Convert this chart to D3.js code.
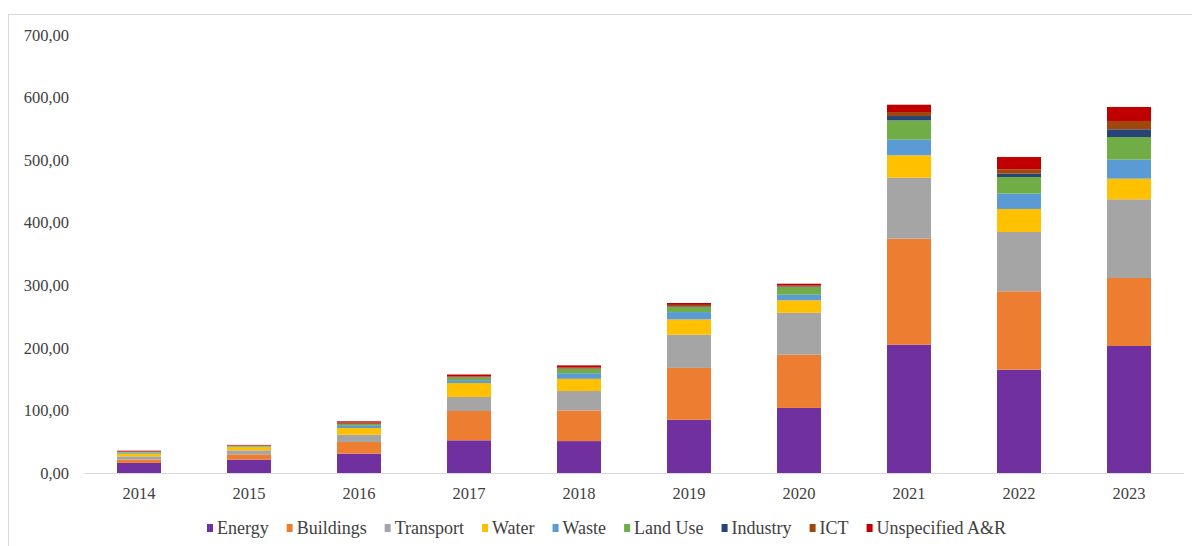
<!DOCTYPE html>
<html>
<head>
<meta charset="utf-8">
<script src="https://cdn.jsdelivr.net/npm/d3@7/dist/d3.min.js"></script>
<style>
  html, body { margin: 0; padding: 0; background: #fff; }
  svg text { font-family: "Liberation Serif", "Times New Roman", serif; fill: #404040; }
</style>
</head>
<body>
<svg id="chart" width="1192" height="546"></svg>
<script>
// Years on the x axis
const years = ["2014", "2015", "2016", "2017", "2018", "2019", "2020", "2021", "2022", "2023"];

// Sector series, in stacking order (bottom to top)
const sectors = ["Energy", "Buildings", "Transport", "Water", "Waste", "Land Use", "Industry", "ICT", "Unspecified A&R"];
const colors  = ["#7030A0", "#ED7D31", "#A5A5A5", "#FFC000", "#5B9BD5", "#70AD47", "#264478", "#9E480E", "#C00000"];

// Values per sector, one per year
const energy      = [16.0, 21.3, 30.9, 52.2, 51.0, 85.0, 104.0, 205.1, 165.2, 203.0];
const buildings   = [ 5.3,  8.5, 18.6, 46.9, 49.0, 83.0,  85.0, 169.4, 125.2, 108.7];
const transport   = [ 5.3,  6.4, 11.7, 22.4, 31.0, 53.0,  67.0,  97.5,  94.8, 125.7];
const water       = [ 4.3,  5.3, 10.7, 22.4, 19.5, 24.5,  20.0,  35.7,  36.8,  33.0];
const waste       = [ 1.5,  1.0,  3.5,  4.5,  9.0, 11.7,   9.0,  25.0,  24.5,  30.4];
const landUse     = [ 1.2,  0.8,  2.4,  4.0,  7.0,  8.0,  12.0,  30.9,  26.6,  36.2];
const industry    = [ 0.3,  0.3,  0.8,  0.5,  0.5,  1.0,   1.0,   6.9,   5.3,  12.3];
const ict         = [ 0.6,  0.5,  2.0,  1.5,  1.5,  2.5,   1.5,   6.4,   6.9,  13.3];
const unspecified = [ 1.2,  0.8,  2.0,  3.0,  3.5,  3.0,   3.0,  11.7,  19.7,  22.4];

// Y axis tick values
const yTicks = [0, 100, 200, 300, 400, 500, 600, 700];

const seriesValues = [energy, buildings, transport, water, waste, landUse, industry, ict, unspecified];

// Build rows for d3.stack
const rows = years.map((y, i) => {
  const r = { year: y };
  sectors.forEach((s, k) => { r[s] = seriesValues[k][i]; });
  return r;
});

const svg = d3.select("#chart");

// Light outer frame
svg.append("rect")
  .attr("x", 8.5).attr("y", 14.5)
  .attr("width", 1300).attr("height", 700)
  .attr("fill", "none").attr("stroke", "#d9d9d9").attr("stroke-width", 1);

const x = d3.scaleBand().domain(years).range([84, 1184]).paddingInner(0.6).paddingOuter(0.3);
const y = d3.scaleLinear().domain([0, 700]).range([473, 35]);
const color = d3.scaleOrdinal().domain(sectors).range(colors);

const stacked = d3.stack().keys(sectors)(rows);

// Stacked bars
svg.append("g")
  .selectAll("g")
  .data(stacked)
  .join("g")
  .attr("fill", d => color(d.key))
  .selectAll("rect")
  .data(d => d)
  .join("rect")
  .attr("x", d => x(d.data.year))
  .attr("width", x.bandwidth())
  .attr("y", d => y(d[1]))
  .attr("height", d => y(d[0]) - y(d[1]));

// Y axis labels (comma decimals)
const fmt = v => d3.format(".2f")(v).replace(".", ",");
const yAxis = svg.append("g")
  .attr("transform", "translate(69,0)")
  .call(d3.axisLeft(y).tickValues(yTicks).tickFormat(fmt).tickSize(0).tickPadding(0));
yAxis.select(".domain").remove();
yAxis.selectAll("text").style("font-size", "16.5px").attr("fill", "#404040");

// X axis with baseline
const xAxis = svg.append("g")
  .attr("transform", "translate(0,473)")
  .call(d3.axisBottom(x).tickSize(0).tickPadding(14));
xAxis.select(".domain").attr("stroke", "#d9d9d9").attr("d", "M84,0.5H1184");
xAxis.selectAll("text").style("font-size", "16.5px").attr("fill", "#404040");

// Legend
const legend = svg.append("g").attr("transform", "translate(0,528)");
let lx = 207;
sectors.forEach((s, k) => {
  const g = legend.append("g").attr("transform", `translate(${lx},0)`);
  g.append("rect").attr("x", 0).attr("y", -4).attr("width", 6).attr("height", 8).attr("fill", colors[k]);
  const t = g.append("text").attr("x", 10).attr("y", 0).attr("dy", "0.35em")
    .style("font-size", "18px").text(s);
  const w = t.node().getComputedTextLength();
  lx += 10 + w + 18;
});
</script>
</body>
</html>
